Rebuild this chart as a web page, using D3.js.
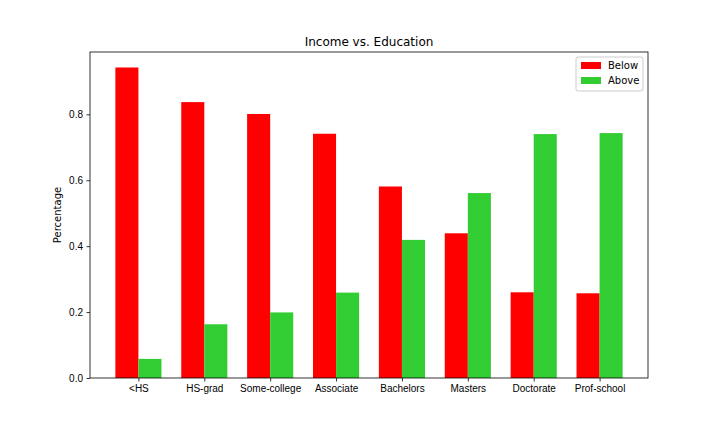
<!DOCTYPE html>
<html><head><meta charset="utf-8">
<script src="https://cdn.jsdelivr.net/npm/d3@7"></script>
<style>body{margin:0;background:#fff;font-family:"DejaVu Sans",sans-serif}</style>
</head><body><div id="chart"></div>
<script>
const categories = ['<HS', 'HS-grad', 'Some-college', 'Associate', 'Bachelors', 'Masters', 'Doctorate', 'Prof-school'];
const below = [0.942, 0.837, 0.801, 0.741, 0.581, 0.439, 0.260, 0.257];
const above = [0.058, 0.163, 0.199, 0.259, 0.419, 0.561, 0.740, 0.743];
const yTicks = [0.0, 0.2, 0.4, 0.6, 0.8];

const W = 720, H = 432;
const M = { top: 52, right: 72, bottom: 54, left: 90 };
const BW = 0.35;

const svg = d3.select('#chart').append('svg').attr('width', W).attr('height', H);

const x = d3.scaleLinear().domain([-0.735, 7.735]).range([M.left, W - M.right]);
const y = d3.scaleLinear().domain([0, 0.989]).range([H - M.bottom, M.top]);

const g = svg.append('g');
g.selectAll('.below').data(below).join('rect')
  .attr('x', (d, i) => x(i - BW)).attr('width', x(BW) - x(0))
  .attr('y', d => y(d)).attr('height', d => y(0) - y(d)).attr('fill', '#ff0000');
g.selectAll('.above').data(above).join('rect')
  .attr('x', (d, i) => x(i)).attr('width', x(BW) - x(0))
  .attr('y', d => y(d)).attr('height', d => y(0) - y(d)).attr('fill', '#32cd32');

const xAxis = svg.append('g').attr('transform', `translate(0,${H - M.bottom})`)
  .call(d3.axisBottom(x).tickValues(d3.range(categories.length)).tickFormat(i => categories[i]).tickSize(3.5).tickPadding(3.5));
const yAxis = svg.append('g').attr('transform', `translate(${M.left},0)`)
  .call(d3.axisLeft(y).tickValues(yTicks).tickFormat(d3.format('.1f')).tickSize(3.5).tickPadding(3.5));
[xAxis, yAxis].forEach(a => {
  a.selectAll('.domain').remove();
  a.selectAll('text').style('font-size', '10px').attr('fill', '#000');
  a.selectAll('line').attr('stroke', '#000').attr('stroke-width', 0.8);
});

svg.append('rect').attr('x', M.left).attr('y', M.top)
  .attr('width', W - M.left - M.right).attr('height', H - M.top - M.bottom)
  .attr('fill', 'none').attr('stroke', '#000').attr('stroke-width', 0.8);

svg.append('text').attr('x', (M.left + W - M.right) / 2).attr('y', 46)
  .attr('text-anchor', 'middle').style('font-size', '12px').text('Income vs. Education');
svg.append('text').attr('transform', `translate(61,${(M.top + H - M.bottom) / 2}) rotate(-90)`)
  .attr('text-anchor', 'middle').style('font-size', '10px').text('Percentage');

const lg = svg.append('g').attr('transform', 'translate(576,57)');
lg.append('rect').attr('width', 67).attr('height', 34).attr('rx', 2)
  .attr('fill', '#fff').attr('stroke', '#ccc');
[['Below', '#ff0000'], ['Above', '#32cd32']].forEach(([t, c], i) => {
  lg.append('rect').attr('x', 5).attr('y', 5 + i * 15).attr('width', 20).attr('height', 7).attr('fill', c);
  lg.append('text').attr('x', 32).attr('y', 12 + i * 15).style('font-size', '10px').text(t);
});
</script></body></html>
